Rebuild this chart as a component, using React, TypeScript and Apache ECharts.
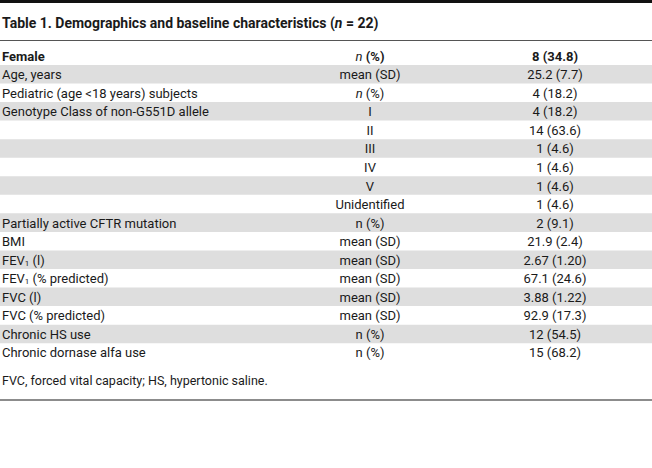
import React, { useEffect, useRef } from "react";
import * as echarts from "echarts";

const titleText = "Table 1. Demographics and baseline characteristics ({bi|n} = 22)";
const footnote = "FVC, forced vital capacity; HS, hypertonic saline.";

const labels = [
  "{b|Female}",
  "Age, years",
  "Pediatric (age <18 years) subjects",
  "Genotype Class of non-G551D allele",
  "",
  "",
  "",
  "",
  "",
  "Partially active CFTR mutation",
  "BMI",
  "FEV{sub|1} (l)",
  "FEV{sub|1} (% predicted)",
  "FVC (l)",
  "FVC (% predicted)",
  "Chronic HS use",
  "Chronic dornase alfa use",
];

const stats = [
  "{i|n} {b|(%)}",
  "mean (SD)",
  "{i|n} (%)",
  "I",
  "II",
  "III",
  "IV",
  "V",
  "Unidentified",
  "n (%)",
  "mean (SD)",
  "mean (SD)",
  "mean (SD)",
  "mean (SD)",
  "mean (SD)",
  "n (%)",
  "n (%)",
];

const values = [
  "{b|8 (34.8)}",
  "25.2 (7.7)",
  "4 (18.2)",
  "4 (18.2)",
  "14 (63.6)",
  "1 (4.6)",
  "1 (4.6)",
  "1 (4.6)",
  "1 (4.6)",
  "2 (9.1)",
  "21.9 (2.4)",
  "2.67 (1.20)",
  "67.1 (24.6)",
  "3.88 (1.22)",
  "92.9 (17.3)",
  "12 (54.5)",
  "15 (68.2)",
];

const FONT = "Roboto, sans-serif";
const TEXT = "#1a1a1a";

export default function App() {
  const ref = useRef<HTMLDivElement>(null);
  useEffect(() => {
    if (!ref.current) return;
    const chart = echarts.init(ref.current, undefined, { renderer: "svg" });
    const W = 652;
    const rowTop = 46.4;
    const rowH = 18.55;
    const labelX = 2;
    const statX = 370;
    const valueX = 555;
    const fs = 13;
    const rich = {
      b: { fontWeight: "bold", fontSize: fs, fontFamily: FONT, fill: TEXT },
      i: { fontStyle: "italic", fontSize: fs, fontFamily: FONT, fill: TEXT },
      bi: { fontStyle: "italic", fontWeight: "bold", fontSize: 14, fontFamily: FONT, fill: TEXT },
      sub: { fontSize: 8, fontFamily: FONT, fill: TEXT, verticalAlign: "bottom", padding: [6, 0, 0, 0] },
    };
    const elements: any[] = [];
    elements.push({ type: "rect", shape: { x: 0, y: 0, width: W, height: 3 }, style: { fill: "#111" }, silent: true });
    elements.push({
      type: "text",
      x: labelX,
      y: 23,
      style: {
        text: titleText,
        fontSize: 14,
        fontWeight: "bold",
        fontFamily: FONT,
        fill: TEXT,
        verticalAlign: "middle",
        align: "left",
        rich,
      },
    });
    elements.push({ type: "line", shape: { x1: 0, y1: 40.5, x2: W, y2: 40.5 }, style: { stroke: "#555", lineWidth: 1 } });
    labels.forEach((lab, i) => {
      const top = rowTop + i * rowH;
      const cy = top + rowH / 2 + 0.5;
      if (i % 2 === 1) {
        elements.push({ type: "rect", shape: { x: 0, y: top, width: W, height: rowH }, style: { fill: "#dedede" }, silent: true });
      }
      const mk = (t: string, x: number, align: string) => ({
        type: "text",
        x,
        y: cy,
        style: { text: t, fontSize: fs, fontFamily: FONT, fill: TEXT, align, verticalAlign: "middle", rich },
      });
      if (lab) elements.push(mk(lab, labelX, "left"));
      elements.push(mk(stats[i], statX, "center"));
      elements.push(mk(values[i], valueX, "center"));
    });
    elements.push({
      type: "text",
      x: labelX,
      y: 380,
      style: { text: footnote, fontSize: 12.5, fontFamily: FONT, fill: TEXT, verticalAlign: "middle", align: "left" },
    });
    elements.push({ type: "line", shape: { x1: 0, y1: 400, x2: W, y2: 400 }, style: { stroke: "#666", lineWidth: 1.5 } });
    chart.setOption({ animation: false, backgroundColor: "#fff", graphic: { elements } });
    return () => chart.dispose();
  }, []);
  return <div ref={ref} style={{ position: "absolute", left: 0, top: 0, width: 652, height: 468 }} />;
}
